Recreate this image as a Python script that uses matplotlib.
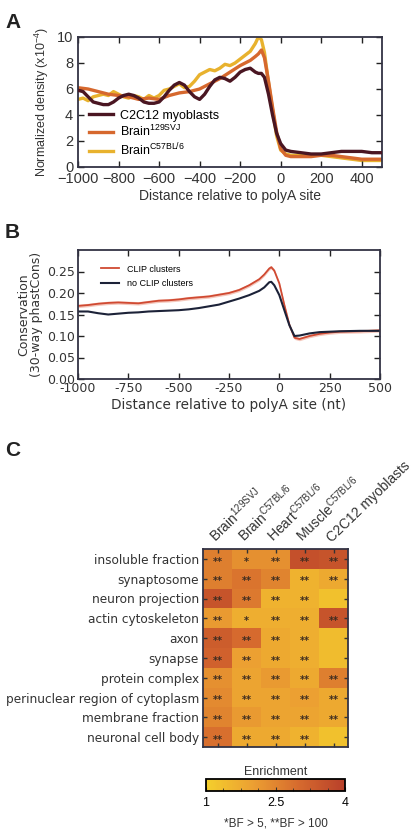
import numpy as np
import matplotlib
matplotlib.use('Agg')
import matplotlib.pyplot as plt
from matplotlib.colors import LinearSegmentedColormap
from matplotlib.ticker import FuncFormatter

plt.rcParams['font.family'] = ['Liberation Sans', 'DejaVu Sans']
plt.rcParams['mathtext.fontset'] = 'custom'
plt.rcParams['mathtext.rm'] = 'Liberation Sans'
plt.rcParams['mathtext.it'] = 'Liberation Sans:italic'
plt.rcParams['mathtext.bf'] = 'Liberation Sans:bold'

# ---- panel A data: density around polyA site
a_x = [-1000, -975, -950, -925, -900, -875, -850, -825, -800, -775, -750, -725, -700, -675,
       -650, -625, -600, -575, -550, -525, -500, -475, -450, -425, -400, -375, -350, -325,
       -300, -275, -250, -225, -200, -175, -150, -125, -110, -95, -80, -60, -40, -20,
       0, 25, 50, 100, 150, 200, 250, 300, 350, 400, 450, 500]
c2c12 = [5.9, 5.8, 5.4, 5.0, 4.9, 4.8, 4.8, 5.0, 5.3, 5.5, 5.6, 5.5, 5.3, 5.0,
         4.9, 4.9, 5.0, 5.4, 5.9, 6.3, 6.5, 6.3, 5.8, 5.4, 5.2, 5.6, 6.2, 6.7,
         6.9, 6.8, 6.6, 6.9, 7.3, 7.5, 7.6, 7.3, 7.2, 7.2, 6.9, 5.6, 4.0, 2.6,
         1.8, 1.3, 1.2, 1.1, 1.0, 1.0, 1.1, 1.2, 1.2, 1.2, 1.1, 1.1]
brain_129 = [6.1, 6.05, 6.0, 5.9, 5.8, 5.7, 5.6, 5.55, 5.5, 5.45, 5.4, 5.3, 5.2, 5.25,
             5.3, 5.25, 5.2, 5.35, 5.5, 5.6, 5.7, 5.75, 5.8, 5.9, 6.0, 6.2, 6.4, 6.6,
             6.8, 7.05, 7.3, 7.55, 7.8, 8.0, 8.2, 8.5, 8.7, 9.0, 8.4, 6.6, 4.6, 2.7,
             1.4, 0.9, 0.8, 0.8, 0.8, 0.9, 0.9, 0.8, 0.7, 0.6, 0.6, 0.6]
brain_c57 = [5.2, 5.3, 5.1, 5.4, 5.5, 5.6, 5.5, 5.8, 5.6, 5.4, 5.3, 5.5, 5.4, 5.2,
             5.5, 5.3, 5.5, 5.9, 6.0, 6.2, 6.4, 6.1, 6.2, 6.6, 7.1, 7.3, 7.5, 7.4,
             7.6, 7.9, 7.8, 8.0, 8.3, 8.6, 8.9, 9.5, 10.0, 9.8, 8.8, 6.5, 4.4, 2.4,
             1.3, 1.0, 0.9, 0.9, 0.9, 0.9, 0.8, 0.7, 0.6, 0.5, 0.5, 0.5]

# ---- panel B data: conservation
b_x = [-1000, -950, -900, -850, -800, -750, -700, -650, -600, -550, -500, -450, -400, -350,
       -300, -250, -200, -150, -100, -75, -50, -40, -25, 0, 25, 50, 75, 100, 150, 200,
       250, 300, 400, 500]
clip = [0.170, 0.172, 0.175, 0.177, 0.178, 0.177, 0.176, 0.179, 0.182, 0.183, 0.185, 0.188,
        0.190, 0.192, 0.196, 0.200, 0.207, 0.218, 0.232, 0.243, 0.257, 0.260, 0.252, 0.222,
        0.172, 0.126, 0.096, 0.093, 0.100, 0.105, 0.108, 0.110, 0.111, 0.113]
no_clip = [0.157, 0.157, 0.153, 0.150, 0.152, 0.154, 0.155, 0.157, 0.158, 0.159, 0.160, 0.162,
           0.165, 0.169, 0.173, 0.180, 0.187, 0.195, 0.205, 0.213, 0.225, 0.226, 0.218, 0.195,
           0.160, 0.125, 0.100, 0.101, 0.106, 0.109, 0.110, 0.111, 0.112, 0.112]
clip_sem = 0.004

# ---- panel C data: GO enrichment
terms = ['insoluble fraction', 'synaptosome', 'neuron projection', 'actin cytoskeleton', 'axon',
         'synapse', 'protein complex', 'perinuclear region of cytoplasm', 'membrane fraction',
         'neuronal cell body']
samples = [r'Brain$^{\mathrm{129SVJ}}$', r'Brain$^{\mathrm{C57BL/6}}$', r'Heart$^{\mathrm{C57BL/6}}$',
           r'Muscle$^{\mathrm{C57BL/6}}$', 'C2C12 myoblasts']
enrich = np.array([
    [2.6, 2.3, 2.3, 3.6, 3.5],
    [2.6, 2.8, 2.5, 1.6, 1.8],
    [3.5, 2.7, 1.6, 1.6, 1.3],
    [2.1, 1.7, 1.7, 1.7, 3.5],
    [3.3, 3.0, 1.8, 1.7, 1.4],
    [3.2, 2.0, 1.8, 1.7, 1.4],
    [2.3, 1.9, 2.1, 1.8, 2.6],
    [2.4, 1.9, 1.9, 2.0, 1.8],
    [2.5, 2.1, 1.9, 1.9, 1.8],
    [2.9, 1.8, 1.8, 1.6, 1.3],
])
stars = [
    ['**', '*', '**', '**', '**'],
    ['**', '**', '**', '**', '**'],
    ['**', '**', '**', '**', ''],
    ['**', '*', '**', '**', '**'],
    ['**', '**', '**', '**', ''],
    ['**', '**', '**', '**', ''],
    ['**', '**', '**', '**', '**'],
    ['**', '**', '**', '**', '**'],
    ['**', '**', '**', '**', '**'],
    ['**', '**', '**', '**', ''],
]

W, H = 417, 833
fig = plt.figure(figsize=(W / 100, H / 100), dpi=100)
fig.patch.set_facecolor('white')

def box(l, t, r, b):
    return [l / W, 1 - b / H, (r - l) / W, (b - t) / H]

def style(ax):
    ax.tick_params(direction='in', top=True, right=True, length=4, width=1, colors='#222222',
                   labelcolor='#333333')
    for s in ax.spines.values():
        s.set_linewidth(1.3)
        s.set_color('#333344')

# panel A
axA = fig.add_axes(box(78, 37, 382, 167))
axA.plot(a_x, c2c12, color='#4a1622', lw=2.4, label='C2C12 myoblasts', zorder=3)
axA.plot(a_x, brain_129, color='#d6682e', lw=2.4, label=r'Brain$^{\mathrm{129SVJ}}$', zorder=2)
axA.plot(a_x, brain_c57, color='#e8b22e', lw=2.4, label=r'Brain$^{\mathrm{C57BL/6}}$', zorder=1)
axA.set_xlim(-1000, 500)
axA.set_ylim(0, 10)
axA.set_xticks(range(-1000, 500, 200))
axA.set_yticks(range(0, 11, 2))
style(axA)
axA.tick_params(labelsize=10.5)
axA.set_xlabel('Distance relative to polyA site', fontsize=10, color='#333333', labelpad=2)
axA.set_ylabel(r'Normalized density (x10$^{-4}$)', fontsize=9, color='#333333', labelpad=4)
axA.legend(loc='lower left', frameon=False, fontsize=9, handlelength=1.9,
           bbox_to_anchor=(0.0, -0.02), labelspacing=0.2, handletextpad=0.6)
fig.text(5 / W, 1 - 28 / H, 'A', fontsize=15, fontweight='bold', color='#222222')

# panel B
axB = fig.add_axes(box(78, 250, 380, 379))
axB.fill_between(b_x, np.array(clip) - clip_sem, np.array(clip) + clip_sem,
                 color='#f0b0a0', alpha=0.7, lw=0)
axB.plot(b_x, clip, color='#d04a32', lw=1.3, label='CLIP clusters')
axB.plot(b_x, no_clip, color='#1c2238', lw=1.5, label='no CLIP clusters')
axB.set_xlim(-1000, 500)
axB.set_ylim(0, 0.3)
axB.set_xticks(range(-1000, 501, 250))
axB.set_yticks(np.arange(0, 0.26, 0.05))
axB.xaxis.set_major_formatter(FuncFormatter(lambda v, p: f'{v:.0f}'))
axB.yaxis.set_major_formatter(FuncFormatter(lambda v, p: f'{v:.2f}'))
style(axB)
for lab in axB.get_xticklabels() + axB.get_yticklabels():
    lab.set_family('DejaVu Sans')
axB.tick_params(labelsize=9, pad=2)
axB.set_xlabel('Distance relative to polyA site (nt)', fontsize=9.8, family='DejaVu Sans',
               color='#333333', labelpad=2)
axB.set_ylabel('Conservation\n(30-way phastCons)', fontsize=9, family='DejaVu Sans',
               color='#333333', labelpad=3, linespacing=1.0)
axB.legend(loc='upper left', frameon=False, fontsize=6.5, handlelength=2.0,
           bbox_to_anchor=(0.05, 0.95), labelspacing=0.6)
fig.text(5 / W, 1 - 238 / H, 'B', fontsize=15, fontweight='bold', color='#222222')

# panel C
cmap = LinearSegmentedColormap.from_list('enr', ['#f4cf2c', '#eca032', '#d66a2e', '#b8402a'])
axC = fig.add_axes(box(203, 549, 348, 747))
im = axC.imshow(enrich, cmap=cmap, vmin=1, vmax=4, aspect='auto', interpolation='nearest')
for i in range(len(terms)):
    for j in range(len(samples)):
        if stars[i][j]:
            axC.text(j, i + 0.14, stars[i][j], ha='center', va='center', fontsize=7,
                     fontweight='bold', color='#3a2a20', family='DejaVu Sans')
axC.set_xticks(range(len(samples)))
axC.set_yticks(range(len(terms)))
axC.set_xticklabels(samples, rotation=44, ha='left', va='bottom', rotation_mode='anchor',
                    fontsize=10, color='#333333')
axC.set_yticklabels(terms, fontsize=8.7, family='DejaVu Sans', color='#333333')
axC.tick_params(direction='in', top=True, bottom=True, left=True, right=True,
                labeltop=True, labelbottom=False, length=3, width=1, color='#333333', pad=3)
for s in axC.spines.values():
    s.set_linewidth(1.3)
    s.set_color('#333344')
fig.text(5 / W, 1 - 456 / H, 'C', fontsize=15, fontweight='bold', color='#222222')

# colorbar
cax = fig.add_axes(box(206, 779, 345, 791))
cb = fig.colorbar(im, cax=cax, orientation='horizontal', ticks=[1, 2.5, 4])
cb.ax.set_xticklabels(['1', '2.5', '4'])
cb.ax.tick_params(labelsize=9, direction='in', length=3, color='#333333', pad=4)
cb.ax.minorticks_on()
cb.ax.tick_params(which='minor', direction='in', length=2, color='#333333')
cb.outline.set_linewidth(1.3)
cb.ax.set_title('Enrichment', fontsize=9, color='#333333', pad=3)
fig.text(276 / W, 1 - 826 / H, '*BF > 5, **BF > 100', ha='center', fontsize=8.5, color='#333333')

fig.savefig('out.png', dpi=100)
